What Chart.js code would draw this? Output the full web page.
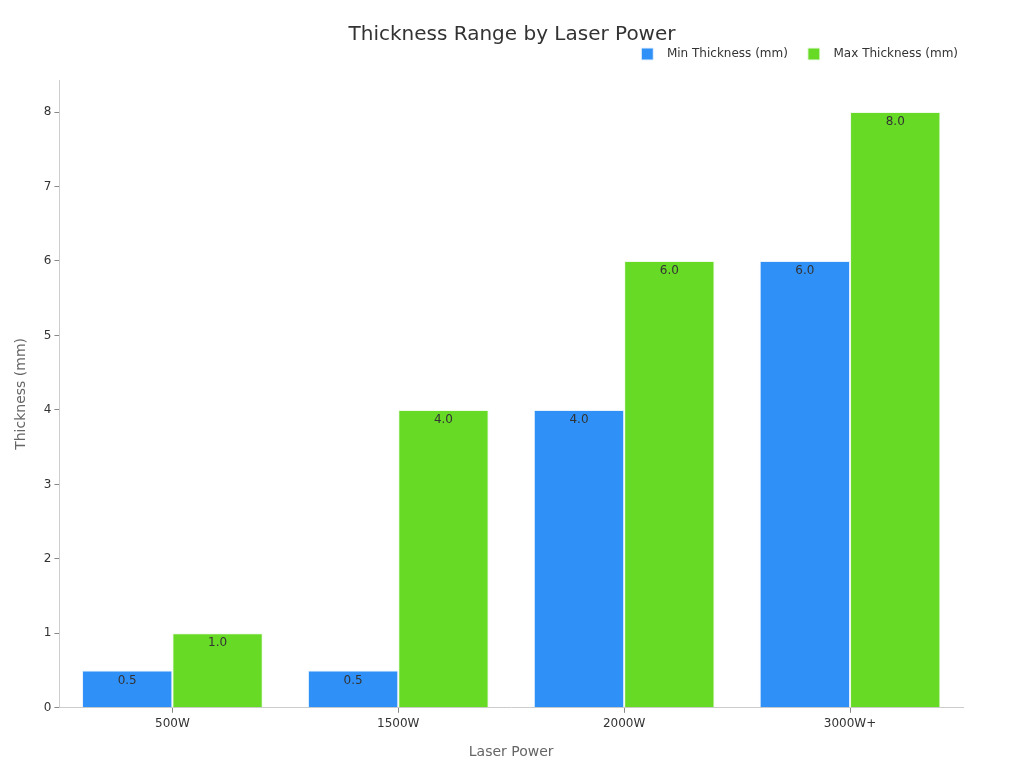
<!DOCTYPE html>
<html>
<head>
<meta charset="utf-8">
<script src="https://cdn.jsdelivr.net/npm/chart.js@4/dist/chart.umd.min.js"></script>
<style>
  html, body { margin: 0; padding: 0; background: #fff; }
  #wrap { width: 1024px; height: 768px; }
</style>
</head>
<body>
<div id="wrap"><canvas id="thicknessChart"></canvas></div>
<script>
const powers = ["500W", "1500W", "2000W", "3000W+"];
const minThickness = [0.5, 0.5, 4.0, 6.0];
const maxThickness = [1.0, 4.0, 6.0, 8.0];
const chartTitle = "Thickness Range by Laser Power";

Chart.defaults.font.family = "'DejaVu Sans', sans-serif";
Chart.defaults.color = "#333";

// value labels just inside the top of each bar
const barLabels = {
  id: "barLabels",
  afterDatasetsDraw(chart) {
    const ctx = chart.ctx;
    ctx.save();
    ctx.font = "12px 'DejaVu Sans', sans-serif";
    ctx.fillStyle = "#333";
    ctx.textAlign = "center";
    ctx.textBaseline = "top";
    chart.data.datasets.forEach((ds, i) => {
      chart.getDatasetMeta(i).data.forEach((bar, j) => {
        ctx.fillText(ds.data[j].toFixed(1), bar.x, bar.y + 4);
      });
    });
    ctx.restore();
  }
};

// title centred on the whole canvas, not the padded box
const pageTitle = {
  id: "pageTitle",
  beforeInit(chart) {
    // give the legend a bit more room underneath
    const fit = chart.legend.fit;
    chart.legend.fit = function () {
      fit.call(this);
      this.height += 10;
    };
  },
  afterDraw(chart) {
    const ctx = chart.ctx;
    ctx.save();
    ctx.font = "20px 'DejaVu Sans', sans-serif";
    ctx.fillStyle = "#333";
    ctx.textAlign = "center";
    ctx.textBaseline = "middle";
    ctx.fillText(chartTitle, chart.width / 2, 35);
    ctx.restore();
  }
};

new Chart(document.getElementById("thicknessChart"), {
  type: "bar",
  data: {
    labels: powers,
    datasets: [
      {
        label: "Min Thickness (mm)",
        data: minThickness,
        backgroundColor: "#2f91f8",
        borderColor: "#e8f2fe",
        borderWidth: 1
      },
      {
        label: "Max Thickness (mm)",
        data: maxThickness,
        backgroundColor: "#67da26",
        borderColor: "#eefbe6",
        borderWidth: 1
      }
    ]
  },
  options: {
    responsive: true,
    maintainAspectRatio: false,
    animation: false,
    layout: { padding: { left: 13, right: 46, top: 28, bottom: 3 } },
    datasets: { bar: { categoryPercentage: 0.8, barPercentage: 1.0 } },
    scales: {
      x: {
        grid: { display: true, offset: false, drawOnChartArea: false, drawTicks: true, tickLength: 5, tickColor: "#888" },
        border: { color: "#ccc" },
        ticks: { font: { size: 12 }, color: "#333", padding: 4 },
        title: { display: true, text: "Laser Power", color: "#666", font: { size: 14 }, padding: { top: 9, bottom: 4 } }
      },
      y: {
        min: 0,
        max: 8.43,
        grid: { display: true, drawOnChartArea: false, drawTicks: true, tickLength: 5, tickColor: "#888" },
        border: { color: "#ccc" },
        afterBuildTicks(axis) {
          axis.ticks = axis.ticks.filter(t => Number.isInteger(t.value));
        },
        ticks: { stepSize: 1, font: { size: 12 }, color: "#333", padding: 3 },
        title: { display: true, text: "Thickness (mm)", color: "#666", font: { size: 14 }, padding: { top: 0, bottom: 11 } }
      },
      // empty spacer on the right so the plot stops short of the legend edge
      spacer: {
        type: "linear",
        position: "right",
        display: true,
        grid: { display: false },
        border: { display: false },
        ticks: { display: false },
        afterFit(axis) { axis.width = 15; }
      }
    },
    plugins: {
      title: { display: false },
      legend: {
        align: "end",
        labels: {
          boxWidth: 12,
          boxHeight: 12,
          padding: 20,
          font: { size: 12 },
          color: "#333",
          generateLabels(chart) {
            const items = Chart.defaults.plugins.legend.labels.generateLabels(chart);
            items.forEach(it => { it.text = "  " + it.text; });
            return items;
          }
        }
      },
      tooltip: { enabled: false }
    }
  },
  plugins: [barLabels, pageTitle]
});
</script>
</body>
</html>
